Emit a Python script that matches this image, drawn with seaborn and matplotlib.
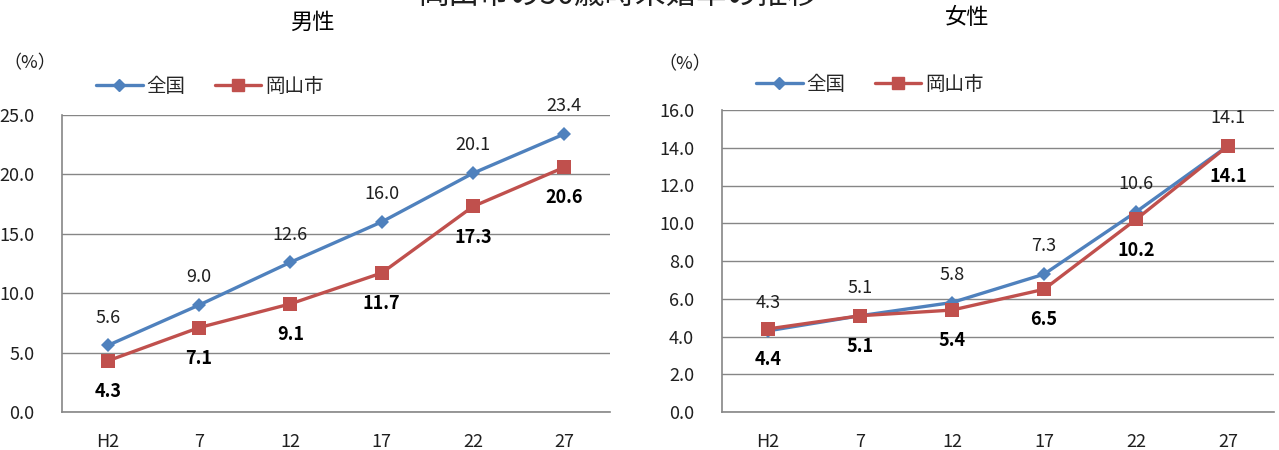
import matplotlib
matplotlib.use("Agg")
import matplotlib.pyplot as plt
import seaborn as sns
import pandas as pd

years = ["H2", "7", "12", "17", "22", "27"]
male_national = [5.6, 9.0, 12.6, 16.0, 20.1, 23.4]
male_okayama = [4.3, 7.1, 9.1, 11.7, 17.3, 20.6]
female_national = [4.3, 5.1, 5.8, 7.3, 10.6, 14.1]
female_okayama = [4.4, 5.1, 5.4, 6.5, 10.2, 14.1]
series_names = ["全国", "岡山市"]
main_title = "岡山市の50歳時未婚率の推移"
panel_titles = ["男性", "女性"]

sns.set_theme(style="white")
plt.rcParams['font.family'] = ['Noto Sans CJK JP', 'DejaVu Sans']

BLUE = "#4F81BD"
RED = "#C0504D"
GRID = "#868686"
TXT = "#1f1f1f"

fig = plt.figure(figsize=(12.79, 4.5), dpi=100)
axL = fig.add_axes([62/1279, 38/450, 548/1279, 297/450])
axR = fig.add_axes([722/1279, 38/450, 552/1279, 302/450])

def make_df(nat, oka):
    rows = []
    for i, y in enumerate(years):
        rows.append({"pos": i, "year": y, "val": nat[i], "series": series_names[0]})
        rows.append({"pos": i, "year": y, "val": oka[i], "series": series_names[1]})
    return pd.DataFrame(rows)

def draw(ax, nat, oka, ymax, ystep, fmt):
    df = make_df(nat, oka)
    sns.lineplot(data=df, x="pos", y="val", hue="series", style="series",
                 palette={series_names[0]: BLUE, series_names[1]: RED},
                 markers={series_names[0]: "D", series_names[1]: "s"},
                 dashes=False, markersize=8, linewidth=2.4,
                 markeredgewidth=0, ax=ax, legend=False, sort=False)
    for ln in ax.lines:
        if ln.get_marker() == "D":
            ln.set_markersize(7)
        elif ln.get_marker() == "s":
            ln.set_markersize(10)
    ax.set_xlim(-0.5, 5.5)
    ax.set_ylim(0, ymax)
    ticks = [i * ystep for i in range(int(round(ymax / ystep)) + 1)]
    ax.set_yticks(ticks)
    ax.set_yticklabels([fmt.format(t) for t in ticks], fontsize=13, color=TXT)
    ax.set_xticks(range(len(years)))
    ax.set_xticklabels(years, fontsize=13, color=TXT)
    ax.tick_params(axis="both", length=0)
    ax.tick_params(axis="y", pad=20)
    ax.tick_params(axis="x", pad=15)
    ax.set_xlabel("")
    ax.set_ylabel("")
    ax.grid(axis="y", color=GRID, linewidth=1.0)
    ax.set_axisbelow(True)
    for s in ["top", "right"]:
        ax.spines[s].set_visible(False)
    for s in ["left", "bottom"]:
        ax.spines[s].set_color(GRID)
        ax.spines[s].set_linewidth(1.2)
    for i in range(len(years)):
        ax.annotate(f"{nat[i]:.1f}", (i, nat[i]), xytext=(0, 20),
                    textcoords="offset points", ha="center", va="center",
                    fontsize=13, color=TXT)
        ax.annotate(f"{oka[i]:.1f}", (i, oka[i]), xytext=(0, -22),
                    textcoords="offset points", ha="center", va="center",
                    fontsize=13, color="black", fontweight="bold")

draw(axL, male_national, male_okayama, 25.0, 5.0, "{:.1f}")
draw(axR, female_national, female_okayama, 16.0, 2.0, "{:.1f}")

from matplotlib.lines import Line2D
def legend_at(x, y):
    handles = [Line2D([], [], color=BLUE, marker="D", markersize=6, linewidth=2.4),
               Line2D([], [], color=RED, marker="s", markersize=8, linewidth=2.4)]
    fig.legend(handles, series_names, loc="center left",
               bbox_to_anchor=(x / 1279, 1 - y / 450), ncol=2, frameon=False,
               fontsize=14, handlelength=2.4, handletextpad=0.2,
               columnspacing=1.5, borderpad=0, borderaxespad=0)

legend_at(96, 86)
legend_at(756, 84)

fig.text(30 / 1279, 1 - 63 / 450, "（%）", ha="center", va="center", fontsize=13, color=TXT)
fig.text(685 / 1279, 1 - 64 / 450, "（%）", ha="center", va="center", fontsize=13, color=TXT)
fig.text(312 / 1279, 1 - 22 / 450, panel_titles[0], ha="center", va="center", fontsize=16, color="black")
fig.text(967 / 1279, 1 - 18 / 450, panel_titles[1], ha="center", va="center", fontsize=16, color="black")
fig.text(618 / 1279, 1 + 5 / 450, main_title, ha="center", va="center", fontsize=22, color=TXT)

fig.savefig("out.png", dpi=100)
